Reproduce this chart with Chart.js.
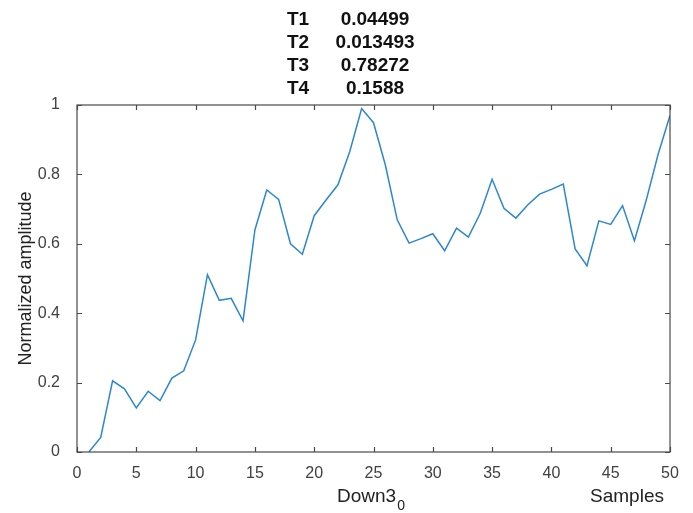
<!DOCTYPE html>
<html>
<head>
<meta charset="utf-8">
<script src="https://cdn.jsdelivr.net/npm/chart.js@4/dist/chart.umd.min.js"></script>
<style>
  html, body { margin: 0; padding: 0; background: #fff; }
  #wrap { width: 693px; height: 513px; }
</style>
</head>
<body>
<div id="wrap"><canvas id="c" width="693" height="513"></canvas></div>
<script>
// Sample index and normalized amplitude of the downsampled signal
const samples = [1,2,3,4,5,6,7,8,9,10,11,12,13,14,15,16,17,18,19,20,21,22,23,24,25,
                 26,27,28,29,30,31,32,33,34,35,36,37,38,39,40,41,42,43,44,45,46,47,48,49,50];
const amplitude = [0, 0.042, 0.205, 0.182, 0.127, 0.175, 0.148, 0.213, 0.234, 0.323,
                   0.511, 0.437, 0.443, 0.378, 0.640, 0.755, 0.728, 0.600, 0.570, 0.681,
                   0.726, 0.770, 0.866, 0.990, 0.949, 0.827, 0.669, 0.602, 0.615, 0.629,
                   0.580, 0.645, 0.619, 0.688, 0.786, 0.702, 0.674, 0.712, 0.743, 0.757,
                   0.772, 0.585, 0.537, 0.666, 0.656, 0.710, 0.609, 0.726, 0.858, 0.970];

// Header block: parameter names and values
const paramNames = ['T1', 'T2', 'T3', 'T4'];
const paramValues = ['0.04499', '0.013493', '0.78272', '0.1588'];

// Axis ticks
const xTicks = [0, 5, 10, 15, 20, 25, 30, 35, 40, 45, 50];
const yTicks = [0, 0.2, 0.4, 0.6, 0.8, 1];

const axisColor = '#4a4a4a';
const sans = '"Liberation Sans", Arial, sans-serif';

// Box around the plot, inward tick marks and the text annotations
const framePlugin = {
  id: 'frame',
  afterDraw(chart) {
    const ctx = chart.ctx;
    const a = chart.chartArea;
    const xs = chart.scales.x, ys = chart.scales.y;
    ctx.save();
    ctx.strokeStyle = axisColor;
    ctx.lineWidth = 1.2;
    ctx.strokeRect(a.left, a.top, a.right - a.left, a.bottom - a.top);
    const tl = 5;
    ctx.beginPath();
    xTicks.forEach(v => {
      const px = Math.round(xs.getPixelForValue(v)) + 0.5;
      ctx.moveTo(px, a.bottom); ctx.lineTo(px, a.bottom - tl);
      ctx.moveTo(px, a.top); ctx.lineTo(px, a.top + tl);
    });
    yTicks.forEach(v => {
      const py = Math.round(ys.getPixelForValue(v)) + 0.5;
      ctx.moveTo(a.left, py); ctx.lineTo(a.left + tl, py);
      ctx.moveTo(a.right, py); ctx.lineTo(a.right - tl, py);
    });
    ctx.stroke();

    // header lines
    ctx.fillStyle = '#111';
    ctx.font = 'bold 19px ' + sans;
    ctx.textBaseline = 'alphabetic';
    const baselines = [25, 48, 71, 94];
    paramNames.forEach((n, i) => {
      ctx.textAlign = 'left';
      ctx.fillText(n, 287, baselines[i]);
      ctx.textAlign = 'center';
      ctx.fillText(paramValues[i], 375, baselines[i]);
    });

    // y-axis title
    ctx.fillStyle = '#222';
    ctx.font = '18px ' + sans;
    ctx.save();
    ctx.translate(31, (a.top + a.bottom) / 2);
    ctx.rotate(-Math.PI / 2);
    ctx.textAlign = 'center';
    ctx.fillText('Normalized amplitude', 0, 0);
    ctx.restore();

    // x-axis labels
    ctx.font = '19px ' + sans;
    ctx.textAlign = 'left';
    ctx.fillText('Down3', 337, 502);
    const w = ctx.measureText('Down3').width;
    ctx.font = '14px ' + sans;
    ctx.fillText('0', 337 + w + 1, 510);
    ctx.font = '19px ' + sans;
    ctx.textAlign = 'center';
    ctx.fillText('Samples', 627, 502);
    ctx.restore();
  }
};

new Chart(document.getElementById('c'), {
  type: 'line',
  data: {
    datasets: [{
      data: samples.map((s, i) => ({ x: s, y: amplitude[i] })),
      borderColor: '#2b88cf',
      borderWidth: 1.5,
      pointRadius: 0,
      tension: 0,
      fill: false
    }]
  },
  options: {
    responsive: false,
    animation: false,
    layout: { padding: { left: 0, top: 105, right: 23, bottom: 0 } },
    plugins: { legend: { display: false }, tooltip: { enabled: false }, title: { display: false } },
    scales: {
      x: {
        type: 'linear', min: 0, max: 50,
        afterBuildTicks: s => { s.ticks = xTicks.map(v => ({ value: v })); },
        afterFit: s => { s.height = 61; },
        grid: { display: false },
        border: { display: false },
        ticks: { color: '#404040', font: { family: sans, size: 16 }, padding: 4, maxRotation: 0,
                 callback: v => String(v) }
      },
      y: {
        min: 0, max: 1,
        afterBuildTicks: s => { s.ticks = yTicks.map(v => ({ value: v })); },
        afterFit: s => { s.width = 77; },
        grid: { display: false },
        border: { display: false },
        ticks: { color: '#404040', font: { family: sans, size: 16 }, padding: 9,
                 callback: v => String(v) }
      }
    }
  },
  plugins: [framePlugin]
});
</script>
</body>
</html>
